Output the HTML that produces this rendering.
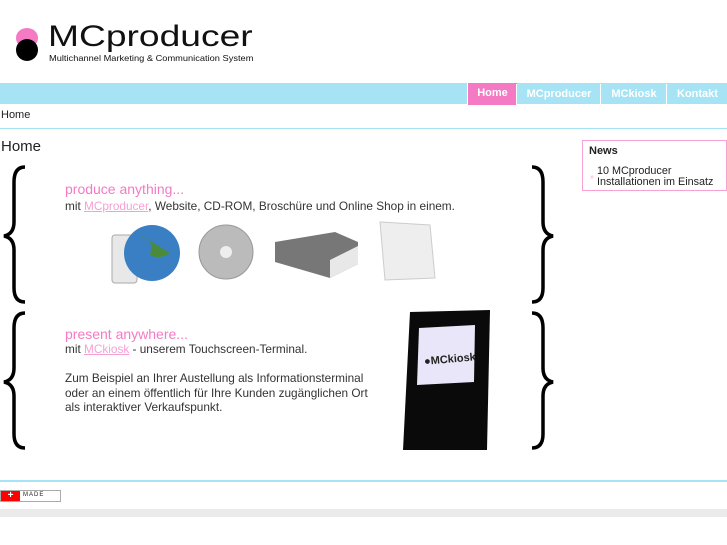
<!DOCTYPE html>
<html><head><meta charset="utf-8"><style>
body{margin:0;width:727px;height:545px;background:#fff;font-family:"Liberation Sans",sans-serif;position:relative;overflow:hidden;color:#222}
.a{position:absolute}
.nav{top:83px;left:0;width:727px;height:21px;background:#a6e3f4}
.tab{position:absolute;top:1px;height:21px;line-height:21px;color:#fff;font-weight:bold;font-size:11px;text-align:center;border-left:1px solid #fff}
.p{color:#f47ac4;font-size:14px}
.t{font-size:11.8px;color:#333;line-height:14.5px}
.l{color:#f7a0d4;text-decoration:underline}
</style></head><body>
<div class="a" style="left:16px;top:28px;width:22px;height:20px;border-radius:50%;background:#f47ac4"></div>
<div class="a" style="left:16px;top:39px;width:22px;height:22px;border-radius:50%;background:#000"></div>
<div class="a" style="left:48px;top:20px;font-size:30px;color:#111;transform:scaleX(1.24);transform-origin:0 0">MCproducer</div>
<div class="a" style="left:49px;top:53px;font-size:8.5px;color:#111;transform:scaleX(1.09);transform-origin:0 0">Multichannel Marketing &amp; Communication System</div>
<div class="a nav">
<div class="tab" style="left:467px;width:49px;background:#f47ac4;top:0;height:22px;line-height:21px">Home</div>
<div class="tab" style="left:516px;width:84px">MCproducer</div>
<div class="tab" style="left:600px;width:66px">MCkiosk</div>
<div class="tab" style="left:666px;width:61px">Kontakt</div>
</div>
<div class="a" style="left:1px;top:109px;font-size:11px">Home</div>
<div class="a" style="left:0;top:128px;width:727px;height:1px;background:#a6e3f4"></div>
<div class="a" style="left:1px;top:138px;font-size:15px">Home</div>
<div class="a" style="left:582px;top:140px;width:143px;height:49px;border:1px solid #f7a0d4"></div>
<div class="a" style="left:589px;top:145px;font-size:11px;font-weight:bold">News</div>
<div class="a" style="left:590px;top:174px;font-size:7px;color:#f7a0d4">»</div>
<div class="a" style="left:597px;top:166px;font-size:10.8px;line-height:11px">10 MCproducer<br>Installationen im Einsatz</div>
<svg class="a" style="left:0;top:160px" width="560" height="295">
<g fill="none" stroke="#000" stroke-width="3.5">
<path d="M25 7 Q14 7 14 22 L14 62 Q14 74 4 76 Q14 78 14 90 L14 128 Q14 142 25 142"/>
<path d="M25 153 Q14 153 14 168 L14 208 Q14 220 4 222 Q14 224 14 236 L14 274 Q14 288 25 288"/>
<path d="M532 7 Q543 7 543 22 L543 62 Q543 74 553 76 Q543 78 543 90 L543 128 Q543 142 532 142"/>
<path d="M532 153 Q543 153 543 168 L543 208 Q543 220 553 222 Q543 224 543 236 L543 274 Q543 288 532 288"/>
</g>
<rect x="112" y="75" width="25" height="48" rx="3" fill="#e8e8e8" stroke="#aaa"/>
<circle cx="152" cy="93" r="28" fill="#3a7fc4"/><path d="M140 75 q15 5 10 20 q10 5 20 -2" fill="#4a8a3a"/>
<circle cx="226" cy="92" r="27" fill="#bbb" stroke="#999"/><circle cx="226" cy="92" r="6" fill="#eee"/>
<path d="M275 82 L335 72 L358 82 L358 104 L330 118 L275 102 Z" fill="#777"/><path d="M330 100 L358 86 L358 104 L330 118 Z" fill="#e8e8e8"/>
<path d="M380 62 L430 65 L435 118 L385 120 Z" fill="#eee" stroke="#ccc"/>
<path d="M410 152 L490 150 L487 290 L403 290 Z" fill="#0a0a0a"/>
<path d="M419 168 L475 165 L474 222 L417 225 Z" fill="#e8e6f8"/>
<text x="424" y="203" font-size="11" font-weight="bold" fill="#222" transform="rotate(-5 445 200)" font-family="Liberation Sans">●MCkiosk</text>
</svg>
<div class="a p" style="left:65px;top:181px">produce anything...</div>
<div class="a t" style="left:65px;top:199px">mit <span class="l">MCproducer</span>, Website, CD-ROM, Broschüre und Online Shop in einem.</div>
<div class="a p" style="left:65px;top:326px">present anywhere...</div>
<div class="a t" style="left:65px;top:342px">mit <span class="l">MCkiosk</span> - unserem Touchscreen-Terminal.<br><br>Zum Beispiel an Ihrer Austellung als Informationsterminal<br>oder an einem öffentlich für Ihre Kunden zugänglichen Ort<br>als interaktiver Verkaufspunkt.</div>
<div class="a" style="left:0;top:480px;width:727px;height:2px;background:#a6e3f4"></div>
<div class="a" style="left:0;top:490px;width:59px;height:10px;border:1px solid #aaa;background:#fff"></div>
<div class="a" style="left:1px;top:491px;width:19px;height:10px;background:#f00;color:#fff;font-size:10px;line-height:10px;text-align:center;font-weight:bold">+</div>
<div class="a" style="left:23px;top:492px;font-size:6px;letter-spacing:1px">MADE</div>
<div class="a" style="left:0;top:509px;width:727px;height:8px;background:#ebebeb"></div>
</body></html>
